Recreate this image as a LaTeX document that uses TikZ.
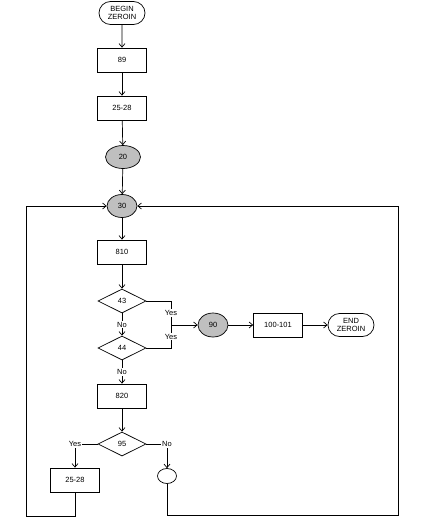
\documentclass[tikz,border=0pt]{standalone}
\usepackage{fontspec}
\setmainfont{Liberation Sans}
\usetikzlibrary{arrows.meta, shapes.geometric, shapes.misc, positioning}

\begin{document}
\begin{tikzpicture}[x=1pt, y=-1pt, >={Straight Barb[length=3.5pt,width=6pt]},
    font=\fontsize{7.5}{8.5}\selectfont, line width=0.7pt,
    term/.style={draw, rounded rectangle, minimum width=48pt, minimum height=23pt, align=center, inner sep=1pt},
    box/.style={draw, minimum width=49pt, minimum height=24pt, inner sep=1pt},
    conn/.style={draw, ellipse, fill=gray!50, minimum width=32pt, minimum height=23pt, inner sep=0pt},
    test/.style={draw, diamond, aspect=2, minimum width=48pt, minimum height=24pt, inner sep=0pt},
    lbl/.style={fill=white, inner sep=1pt}]
    \useasboundingbox (0,0) rectangle (425,522);
    % main column
    \node[term] (begin) at (122,13) {BEGIN\\ZEROIN};
    \node[box] (b89) at (122,60) {89};
    \node[box] (b25a) at (122,108) {25-28};
    \node[conn, minimum width=35pt] (c20) at (123,157) {20};
    \node[conn, minimum width=30pt] (c30) at (122,206) {30};
    \node[box] (b810) at (122,252) {810};
    \node[test] (d43) at (122,301) {43};
    \node[test] (d44) at (122,348) {44};
    \node[box] (b820) at (122,396) {820};
    \node[test] (d95) at (122,444) {95};
    \node[box] (b25b) at (75,480) {25-28};
    \node[draw, ellipse, minimum width=19pt, minimum height=15pt, inner sep=0pt] (jn) at (167,476) {};
    % exit row
    \node[conn, minimum width=30pt, minimum height=24pt] (c90) at (213,325) {90};
    \node[box] (b100) at (278,325) {100-101};
    \node[term] (end) at (351,325) {END\\ZEROIN};
    \coordinate (yj) at (171,325);
    \coordinate (ll) at (26,516);
    \coordinate (rl) at (398,515);

    \foreach \a/\b in {begin/b89,b89/b25a,b25a/c20,c20/c30,c30/b810,b810/d43,b820/d95,yj/c90,c90/b100,b100/end}
      \draw[->] (\a)--(\b);
    \draw[->] (d43) -- node[lbl]{No} (d44);
    \draw[->] (d44) -- node[lbl]{No} (b820);
    \draw (d43.east) -| node[lbl, pos=0.75]{Yes} (yj);
    \draw (d44.east) -| node[lbl, pos=0.75]{Yes} (yj);
    \draw[->] (d95.west) -| node[lbl, pos=0.5]{Yes} (b25b);
    \draw[->] (d95.east) -| node[lbl, pos=0.5]{No} (jn);
    % loops back to 30
    \draw[->] (b25b.south) |- (ll) |- (c30.west);
    \draw[->] (jn.south) |- (rl) |- (c30.east);
\end{tikzpicture}
\end{document}
